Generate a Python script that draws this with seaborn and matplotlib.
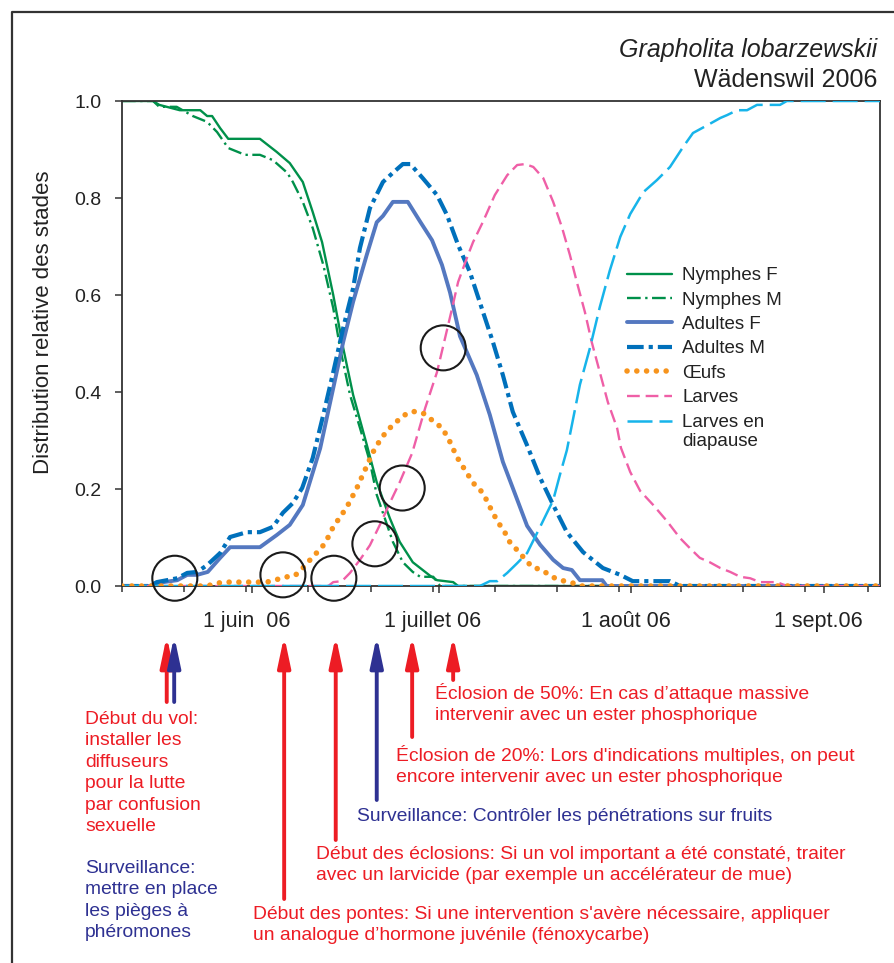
import numpy as np
import pandas as pd
import matplotlib
matplotlib.use("Agg")
import matplotlib.pyplot as plt
import matplotlib.dates as mdates
import matplotlib.transforms as mtransforms
from matplotlib.lines import Line2D
import seaborn as sns

# Relative distribution of the development stages of Grapholita lobarzewskii,
# Wädenswil 2006.  Days are day-of-year numbers (131 = 11 May, 253 = 10 Sept).

nymphes_f_jour = [131, 136, 137, 140.3, 143.6, 144.7, 145.5, 146.8, 148.1, 153.2, 155.9, 158.0,
                  160.1, 161.7, 163.2, 165.0, 166.6, 168.2, 170.4, 172.0, 174.1, 175.7, 177.8,
                  180.6, 181.7, 184.3, 185.1, 253]
nymphes_f_val = [1, 1, 0.992, 0.981, 0.981, 0.969, 0.969, 0.944, 0.922, 0.922, 0.895, 0.872,
                 0.833, 0.771, 0.709, 0.600, 0.491, 0.394, 0.291, 0.214, 0.140, 0.091, 0.049,
                 0.021, 0.012, 0.008, 0, 0]

nymphes_m_jour = [131, 136, 137, 139.8, 142.4, 144.7, 146.3, 148.1, 150.8, 153.2, 155.3, 157.6,
                  158.5, 160.1, 161.7, 163.4, 165.0, 166.1, 167.7, 169.3, 170.9, 172.0, 174.6,
                  176.2, 177.8, 179.0, 181.1, 182.2, 253]
nymphes_m_val = [1, 1, 0.988, 0.988, 0.969, 0.957, 0.936, 0.903, 0.889, 0.889, 0.878, 0.852,
                 0.833, 0.792, 0.738, 0.662, 0.573, 0.491, 0.394, 0.326, 0.256, 0.188, 0.091,
                 0.049, 0.029, 0.019, 0.019, 0, 0]

adultes_f_jour = [131, 135.5, 136.6, 139.9, 141.5, 143.1, 144.8, 146.8, 148.4, 153.2, 155.9, 158.0,
                  160.1, 162.9, 165.0, 166.6, 168.2, 170.4, 172.0, 173.0, 174.6, 177.0, 179.0,
                  180.9, 182.5, 183.8, 185.4, 188.1, 190.2, 192.3, 193.9, 196.2, 198.3, 200.4,
                  202.0, 203.4, 204.7, 208.3, 209.0, 253]
adultes_f_val = [0, 0, 0.006, 0.012, 0.023, 0.023, 0.029, 0.058, 0.080, 0.080, 0.105, 0.126,
                 0.167, 0.284, 0.408, 0.503, 0.586, 0.683, 0.750, 0.763, 0.792, 0.792, 0.751,
                 0.713, 0.662, 0.605, 0.515, 0.435, 0.353, 0.256, 0.202, 0.124, 0.085, 0.054,
                 0.037, 0.033, 0.012, 0.012, 0, 0]

adultes_m_jour = [131, 135.5, 136.6, 139.9, 141.5, 143.1, 144.7, 146.8, 148.4, 151.1, 153.2, 155.3,
                  156.9, 158.5, 160.0, 161.7, 163.4, 165.0, 166.6, 168.2, 169.3, 170.9, 173.0,
                  174.6, 176.2, 177.4, 179.4, 181.7, 183.3, 185.1, 187.0, 189.1, 190.7, 192.3,
                  193.9, 196.2, 198.3, 200.4, 202.6, 205.2, 208.4, 211.2, 213.2, 219.2, 220.8, 253]
adultes_m_val = [0, 0, 0.008, 0.016, 0.027, 0.029, 0.043, 0.068, 0.101, 0.111, 0.111, 0.122,
                 0.151, 0.171, 0.202, 0.264, 0.353, 0.441, 0.532, 0.614, 0.697, 0.779, 0.833,
                 0.852, 0.870, 0.870, 0.841, 0.806, 0.765, 0.703, 0.647, 0.565, 0.503, 0.435,
                 0.359, 0.290, 0.223, 0.167, 0.111, 0.070, 0.037, 0.023, 0.010, 0.010, 0, 0]

oeufs_jour = [131, 144.7, 146.3, 147.9, 154.3, 157.6, 158.8, 160.1, 161.7, 163.2, 164.2, 165.0,
              166.1, 167.2, 168.8, 170.1, 171.4, 172.5, 173.7, 174.9, 176.2, 177.8, 179.4, 180.9,
              182.5, 183.5, 184.9, 186.7, 187.8, 189.1, 190.6, 191.5, 192.6, 193.4, 194.6, 197.0,
              198.6, 200.2, 201.5, 203.1, 205.0, 253]
oeufs_val = [0, 0, 0.006, 0.008, 0.008, 0.019, 0.021, 0.037, 0.060, 0.080, 0.101, 0.122,
             0.142, 0.163, 0.202, 0.239, 0.276, 0.300, 0.321, 0.335, 0.351, 0.360, 0.357, 0.342,
             0.326, 0.305, 0.266, 0.229, 0.208, 0.192, 0.153, 0.132, 0.111, 0.091, 0.074, 0.039,
             0.033, 0.019, 0.012, 0.008, 0, 0]

larves_jour = [131, 164.2, 165.0, 166.4, 167.7, 169.3, 170.9, 172.5, 174.1, 175.7, 177.7, 179.8,
               181.7, 182.7, 184.1, 185.1, 186.5, 187.5, 189.1, 191.0, 193.0, 194.6, 195.9, 197.2,
               198.8, 200.4, 201.8, 203.1, 204.2, 205.5, 206.6, 207.9, 209.2, 210.7, 211.3, 212.8,
               214.4, 216.5, 218.7, 220.8, 222.4, 224.0, 225.6, 227.3, 228.9, 230.5, 232.1, 233.7,
               236.4, 238.0, 253]
larves_val = [0, 0, 0.008, 0.010, 0.027, 0.054, 0.084, 0.126, 0.171, 0.214, 0.274, 0.367,
              0.441, 0.495, 0.571, 0.627, 0.676, 0.709, 0.751, 0.806, 0.847, 0.868, 0.870, 0.864,
              0.841, 0.792, 0.740, 0.682, 0.627, 0.565, 0.503, 0.441, 0.379, 0.325, 0.285, 0.235,
              0.196, 0.167, 0.134, 0.099, 0.078, 0.058, 0.049, 0.037, 0.029, 0.019, 0.016, 0.008,
              0.008, 0, 0]

diapause_jour = [131, 188.6, 190.2, 191.4, 193.0, 194.6, 196.2, 198.3, 200.4, 201.5, 202.6, 204.7,
                 206.3, 207.9, 209.5, 211.2, 212.8, 214.9, 217.1, 219.2, 221.3, 222.9, 225.2, 227.3,
                 228.4, 230.0, 231.6, 233.2, 236.9, 238.0, 253]
diapause_val = [0, 0, 0.010, 0.010, 0.027, 0.047, 0.068, 0.122, 0.177, 0.230, 0.280, 0.415,
                0.490, 0.575, 0.650, 0.720, 0.767, 0.812, 0.837, 0.864, 0.905, 0.934, 0.950, 0.965,
                0.971, 0.981, 0.981, 0.992, 0.992, 1.0, 1.0]

stades = ["Nymphes F", "Nymphes M", "Adultes F", "Adultes M", "Œufs", "Larves",
          "Larves en\ndiapause"]

# Key dates marked by circles on the curves
reperes_jour = [139.5, 156.9, 165.1, 171.7, 176.1, 182.7]
reperes_val = [0.016, 0.023, 0.016, 0.087, 0.202, 0.491]

# Intervention arrows below the date axis
fleches_jour = [138.2, 139.4, 157.1, 165.4, 172.0, 177.7, 184.3]

mois_jour = [152, 182, 213, 244]
mois_labels = ["1 juin  06", "1 juillet 06", "1 août 06", "1 sept.06"]
y_ticks = [0.0, 0.2, 0.4, 0.6, 0.8, 1.0]
y_labels = ["0.0", "0.2", "0.4", "0.6", "0.8", "1.0"]

notes_vol = ["Début du vol:", "installer les", "diffuseurs", "pour la lutte",
             "par confusion", "sexuelle"]
notes_pieges = ["Surveillance:", "mettre en place", "les pièges à", "phéromones"]
notes_50 = ["Éclosion de 50%: En cas d’attaque massive",
            "intervenir avec un ester phosphorique"]
notes_20 = ["Éclosion de 20%: Lors d'indications multiples, on peut",
            "encore intervenir avec un ester phosphorique"]
notes_fruits = ["Surveillance: Contrôler les pénétrations sur fruits"]
notes_eclosions = ["Début des éclosions: Si un vol important a été constaté, traiter",
                   "avec un larvicide (par exemple un accélérateur de mue)"]
notes_pontes = ["Début des pontes: Si une intervention s'avère nécessaire, appliquer",
                "un analogue d’hormone juvénile (fénoxycarbe)"]

ORIGINE = pd.Timestamp("2005-12-31")


def to_dates(jours):
    return ORIGINE + pd.to_timedelta(jours, unit="D")


sns.set_theme(style="ticks")
plt.rcParams["font.family"] = ["Liberation Sans", "DejaVu Sans"]

W, H = 895, 963
fig = plt.figure(figsize=(W / 100, H / 100), dpi=100)
fx = lambda px: px / W
fy = lambda py: 1 - py / H
ax = fig.add_axes([fx(122), fy(586), fx(880) - fx(122), fy(101) - fy(586)])

VERT = "#00904a"
BLEU_F = "#5478c0"
BLEU_M = "#0070bb"
ORANGE = "#f7941d"
ROSE = "#ef5fa7"
CYAN = "#17b4ea"
ROUGE = "#ed1c24"
MARINE = "#2e3192"
TEXTE = "#222222"

series = [
    (nymphes_f_jour, nymphes_f_val, VERT, 1.7, "-", 2),
    (nymphes_m_jour, nymphes_m_val, VERT, 1.7, (0, (5.8, 1.9, 1.0, 1.9)), 2),
    (adultes_f_jour, adultes_f_val, BLEU_F, 2.8, "-", 3),
    (adultes_m_jour, adultes_m_val, BLEU_M, 3.0, (0, (4.0, 1.2, 1.0, 1.2)), 3),
    (oeufs_jour, oeufs_val, ORANGE, 4.0, (0, (0.01, 1.75)), 6),
    (larves_jour, larves_val, ROSE, 1.7, (0, (5.4, 2.5)), 4),
    (diapause_jour, diapause_val, CYAN, 1.8, (0, (10, 2.8)), 5),
]

for label, (jours, vals, color, lw, ls, z) in zip(stades, series):
    df = pd.DataFrame({"date": to_dates(jours), "valeur": vals})
    sns.lineplot(data=df, x="date", y="valeur", ax=ax, color=color, lw=lw,
                 linestyle=ls, label=label, estimator=None, zorder=z,
                 dash_capstyle="round" if label == "Œufs" else "butt")

ax.scatter(to_dates(reperes_jour), reperes_val, s=1050, facecolors="none",
           edgecolors="#1a1a1a", linewidths=1.5, zorder=10, clip_on=False)

ax.set_xlim(to_dates([131])[0], to_dates([253])[0])
ax.set_ylim(0, 1.0)
ax.set_xticks(to_dates(mois_jour), mois_labels)
ax.set_xticks(to_dates(list(range(131, 253, 10))), minor=True)
ax.set_yticks(y_ticks, y_labels)
ax.set_xlabel("")
ax.set_ylabel("Distribution relative des stades", fontsize=16, color=TEXTE)
ax.yaxis.set_label_coords(-0.090, 0.544)

for side in ["left", "right", "top", "bottom"]:
    ax.spines[side].set_visible(True)
    ax.spines[side].set_color("#333333")
    ax.spines[side].set_linewidth(1.3)
ax.tick_params(axis="x", which="major", length=5, width=1.1, color="#333333",
               labelsize=15.5, pad=13, labelcolor=TEXTE)
ax.tick_params(axis="x", which="minor", length=4, width=1.1, color="#333333")
ax.tick_params(axis="y", length=5, width=1.1, color="#333333", labelsize=14,
               pad=10, labelcolor=TEXTE)
decalage = mtransforms.ScaledTranslation(-6 / 100, 0, fig.dpi_scale_trans)
for lab in ax.get_xticklabels():
    lab.set_transform(lab.get_transform() + decalage)

fs_leg = 13.5
leg = ax.legend(loc="upper left", bbox_to_anchor=(fx(627), fy(267)),
                bbox_transform=fig.transFigure, frameon=False, fontsize=fs_leg,
                handlelength=2.4, handletextpad=0.55, labelspacing=0.39,
                borderpad=0, borderaxespad=0)
for t in leg.get_texts():
    t.set_color(TEXTE)
# keep the last key level with the first line of its two-line label
derniere = leg.legend_handles[-1]
derniere.set_ydata(np.asarray(derniere.get_ydata()) + 7.7)

fig.text(fx(877), fy(50), "Grapholita lobarzewskii", ha="right", va="center",
         fontsize=18, style="italic", color=TEXTE)
fig.text(fx(877), fy(80), "Wädenswil 2006", ha="right", va="center",
         fontsize=18, color=TEXTE)

# Annotation arrows (x in data units, y in figure pixels)
trans = mtransforms.blended_transform_factory(ax.transData, fig.transFigure)
fleches_couleur = [ROUGE, MARINE, ROUGE, ROUGE, MARINE, ROUGE, ROUGE]
fleches_fin = [702, 702, 899, 840, 800, 737, 680]
for jour, col, fin in zip(fleches_jour, fleches_couleur, fleches_fin):
    d = mdates.date2num(to_dates([jour])[0])
    ax.annotate("", xy=(d, fy(636)), xytext=(d, fy(fin)), xycoords=trans,
                textcoords=trans, annotation_clip=False,
                arrowprops=dict(arrowstyle="-|>,head_length=1.8,head_width=0.38",
                                mutation_scale=10, color=col, lw=2.8,
                                shrinkA=0, shrinkB=0))

# Explanatory notes
fs_note = 13.9
pas = 21.4
blocs = [
    (85, 724, ROUGE, notes_vol),
    (85, 873, MARINE, notes_pieges),
    (435, 699, ROUGE, notes_50),
    (396, 761, ROUGE, notes_20),
    (357, 821, MARINE, notes_fruits),
    (316, 859, ROUGE, notes_eclosions),
    (253, 919, ROUGE, notes_pontes),
]
for x0, y0, col, lignes in blocs:
    for i, ligne in enumerate(lignes):
        fig.text(fx(x0), fy(y0 + i * pas), ligne, ha="left", va="baseline",
                 fontsize=fs_note, color=col)

# Outer frame of the figure
fig.add_artist(Line2D([fx(12), fx(12), 1.0], [0.0, fy(12), fy(12)],
                      transform=fig.transFigure, color="#333333", lw=1.6))

fig.savefig("out.png", dpi=100)
